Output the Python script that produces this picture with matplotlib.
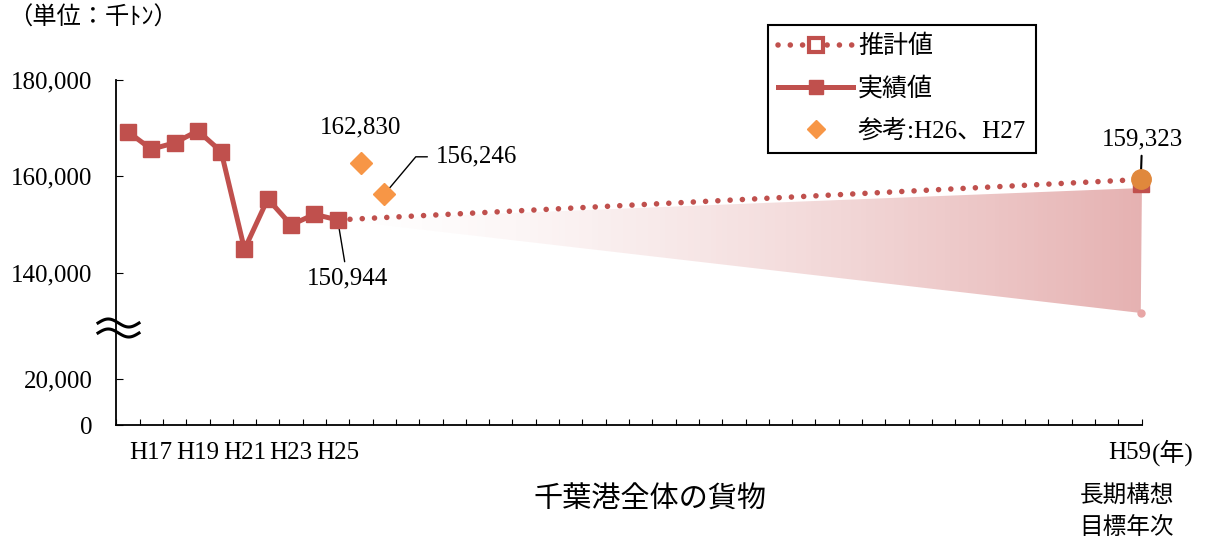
import numpy as np
import matplotlib
matplotlib.use("Agg")
import matplotlib.pyplot as plt
from matplotlib.lines import Line2D
from matplotlib.ticker import FixedLocator, FuncFormatter


# data (千トン)
years = list(range(16, 60))  # H16 .. H59
actual_years = list(range(16, 26))
actual = [169200, 165600, 166900, 169400, 165100, 144850, 155300, 149900, 152100, 150944]
ref_years = [26, 27]
ref_vals = [162830, 156246]
target_val = 159323
fan_upper = 157550
fan_lower = 131650
label_years = [17, 19, 21, 23, 25, 59]

RED = "#c0504d"
ORANGE = "#f79646"
DARK_ORANGE = "#e0883c"
SERIF = ["Liberation Serif", "Noto Sans CJK JP"]
CJK = ["Noto Sans CJK JP", "DejaVu Sans"]

plt.rcParams["font.family"] = SERIF

# broken y axis: 0-~42,600 below, ~128,700-180,000 above
H_TOP = 345.6
H_BRK = 98.0
LOW_K = 46.0 / 20000
UP_K = 96.5 / 20000
V_BRK = H_BRK / LOW_K


def fwd(v):
    v = np.asarray(v, float)
    low = v * LOW_K
    up = H_TOP - (180000 - v) * UP_K
    return np.where(v < V_BRK, low, np.maximum(up, H_BRK))


def inv(h):
    h = np.asarray(h, float)
    return np.where(h < H_BRK, h / LOW_K, 180000 - (H_TOP - h) / UP_K)


def xpos(y):
    return y - years[0]


# the target marks sit on the right end of the axis
x_target = xpos(59) + 0.46

fig = plt.figure(figsize=(12.08, 5.4), dpi=100)
ax = fig.add_axes([116.3 / 1208, 1 - 425.3 / 540, 1025.4 / 1208, 345.6 / 540])
ax.set_yscale("function", functions=(fwd, inv))

# shaded fan (gradient from H25 to H59)
x_fan = [xpos(25), x_target + 0.05, x_target]
y_fan = [actual[-1], fan_upper, fan_lower]
poly = ax.fill(x_fan, y_fan, facecolor="none", edgecolor="none")[0]
fx = np.linspace(-0.5, len(years) - 0.5, 600)
alpha = np.clip((fx - xpos(25)) / (x_target - xpos(25)), 0, 1) ** 1.4 * 0.55
grad = np.zeros((2, fx.size, 4))
grad[..., 0] = 0.82
grad[..., 1] = 0.45
grad[..., 2] = 0.45
grad[..., 3] = alpha
im = ax.imshow(grad, extent=[0, 1, 0, 1], transform=ax.transAxes,
               aspect="auto", interpolation="bilinear", zorder=1)
im.set_clip_path(poly)
ax.plot([x_target], [fan_lower], "o", ms=5, color="#e8a6a6", zorder=2, clip_on=False)

# estimate (dotted)
ax.plot([xpos(25), x_target], [actual[-1], target_val], color=RED, lw=4,
        linestyle=(0, (0.01, 2.2)), dash_capstyle="round", zorder=3)
# end marker of the estimate sits just under the orange circle
ax.plot([x_target], [target_val - 900], "s", ms=11, color=RED, zorder=3, clip_on=False)

# actual
ax.plot([xpos(y) for y in actual_years], actual, color=RED, lw=3.6,
        marker="s", ms=11, zorder=4)

# reference H26, H27
ax.plot([xpos(y) for y in ref_years], ref_vals, "D", ms=11, color=ORANGE,
        linestyle="none", zorder=5)

# target circle
ax.plot([x_target], [target_val], "o", ms=14, color=DARK_ORANGE, zorder=6, clip_on=False)

ax.set_xlim(-0.5, len(years) - 0.5)
ax.set_ylim(0, 180000)

ax.spines["top"].set_visible(False)
ax.spines["right"].set_visible(False)
for s in ("left", "bottom"):
    ax.spines[s].set_linewidth(1.3)

ax.xaxis.set_major_locator(FixedLocator([xpos(y) for y in label_years]))
ax.set_xticklabels([f"H{y}" for y in label_years])
ax.xaxis.set_minor_locator(FixedLocator(np.arange(-0.5, len(years), 1.0)))
ax.tick_params(axis="x", which="major", length=0, pad=12, labelsize=18)
ax.tick_params(axis="x", which="minor", direction="in", length=4, width=0.8)

ax.yaxis.set_major_locator(FixedLocator([0, 20000, 140000, 160000, 180000]))
ax.yaxis.set_minor_locator(FixedLocator([]))
ax.yaxis.set_major_formatter(FuncFormatter(lambda v, p: f"{v:,.0f}"))
ax.tick_params(axis="y", direction="in", length=5, width=0.8, pad=17, labelsize=18)

# data labels
ax.annotate(f"{ref_vals[0]:,}", xy=(xpos(26), ref_vals[0]), xytext=(0, 25),
            textcoords="offset points", ha="center", va="center", fontsize=18)
ax.annotate(f"{ref_vals[1]:,}", xy=(xpos(27), ref_vals[1]), xytext=(37, 27),
            textcoords="offset points", ha="left", va="center", fontsize=18,
            arrowprops=dict(arrowstyle="-", color="black", lw=1,
                            connectionstyle="angle,angleA=0,angleB=50,rad=0",
                            relpos=(0, 0.5), shrinkA=4, shrinkB=2))
ax.annotate(f"{actual[-1]:,}", xy=(xpos(25), actual[-1]), xytext=(7, -42),
            textcoords="offset points", ha="center", va="center", fontsize=18,
            arrowprops=dict(arrowstyle="-", color="black", lw=1, shrinkA=2, shrinkB=2))
ax.annotate(f"{target_val:,}", xy=(x_target, target_val), xytext=(1, 29),
            textcoords="offset points", ha="center", va="center", fontsize=18,
            annotation_clip=False,
            arrowprops=dict(arrowstyle="-", color="black", lw=1.5, shrinkA=2, shrinkB=0))

# axis break mark
t = np.linspace(0, 1, 60)
bx = (98 + 41 * t) / 1208
for yc in (323, 333):
    by = 1 - (yc - 4.0 * np.sin(2 * np.pi * t)) / 540
    fig.add_artist(Line2D(bx, by, color="black", lw=2.2, transform=fig.transFigure))

# legend
handles = [
    Line2D([], [], color=RED, lw=4, linestyle=(0, (0.01, 2.2)), dash_capstyle="round",
           marker="s", ms=10, mfc="white", mec=RED, mew=3),
    Line2D([], [], color=RED, lw=3.6, marker="s", ms=10),
    Line2D([], [], color=ORANGE, marker="D", ms=9, linestyle="none"),
]
leg = ax.legend(handles, ["推計値", "実績値", "参考:H26、H27"],
                loc="upper left", bbox_to_anchor=(768 / 1208, 1 - 25 / 540),
                bbox_transform=fig.transFigure, borderaxespad=0, fancybox=False,
                framealpha=1, edgecolor="black", handlelength=3.0,
                handletextpad=0.2, labelspacing=0.75, borderpad=0.4,
                prop={"family": SERIF, "size": 18})
leg.get_frame().set_linewidth(1.5)

# texts
fig.text(8 / 1208, 1 - 18 / 540, "（単位：千ﾄﾝ）", fontsize=17.5, family=CJK,
         ha="left", va="center")
fig.text(1152 / 1208, 1 - 453 / 540, "(年)", fontsize=18, family=SERIF,
         ha="left", va="center")
fig.text(650 / 1208, 1 - 500 / 540, "千葉港全体の貨物", fontsize=21, family=CJK,
         ha="center", va="center")
fig.text(1127 / 1208, 1 - 495 / 540, "長期構想", fontsize=17, family=CJK,
         ha="center", va="center")
fig.text(1127 / 1208, 1 - 527 / 540, "目標年次", fontsize=17, family=CJK,
         ha="center", va="center")

fig.savefig("out.png", dpi=100)
